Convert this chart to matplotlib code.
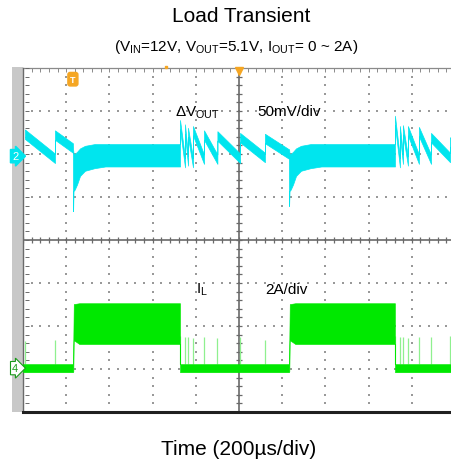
import numpy as np
import matplotlib.pyplot as plt

plt.rcParams['font.family'] = ['Liberation Sans', 'DejaVu Sans']
plt.rcParams['mathtext.fontset'] = 'custom'
plt.rcParams['mathtext.rm'] = 'Liberation Sans'

# scope settings: 200us/div over 10 div, ch2 50mV/div, ch4 2A/div
US_PER_DIV = 200.0
MV_PER_DIV = 50.0
A_PER_DIV = 2.0
CH2_POS = 5.95   # divisions above bottom edge
CH4_POS = 1.02

# load current steps 0 -> 2A and back
STEP_US = [231, 1231]
RELEASE_US = [727, 1722]

# skip-mode pulses at no load: pulse time, Vout peak, Vout just before next pulse, IL peak
PULSE_US = [[9, 148],
            [727, 750, 764, 787, 838, 900, 1005, 1120],
            [1722, 1745, 1759, 1782, 1833, 1889, 1977]]
PULSE_TOP_MV = [[31, 30],
                [42, 37, 33, 35, 30, 29, 27, 26],
                [47, 35, 36, 35, 34, 27, 22]]
PULSE_END_MV = [[3, 15],
                [-2, 0, -2, 2, 2, 3, 4, 8],
                [-2, 2, 0, 2, 2, 4, 18]]
PULSE_IL_A = [[1.26, 1.3],
              [1.5, 1.45, 1.45, 1.4, 1.44, 1.4, 1.44, 1.3],
              [1.5, 1.45, 1.45, 1.4, 1.44, 1.44, 1.5]]
SKIP_RIPPLE_MV = 11

# undershoot after the load step and recovery
DIP_DT_US = [1, 3, 6, 10, 19, 33, 56, 100, 150]
DIP_HI_MV = [8, 3, 2, 3, 5, 9, 12, 14, 14]
DIP_LO_MV = [-64, -40, -40, -38, -33, -23, -17, -14, -12]
DIP_MIN_MV = [-64, -58]

# ripple band in CCM at 2A
VOUT_HI_MV, VOUT_LO_MV = 14, -12

# inductor current bands
IL_LOW = (0.19, -0.19)
IL_HIGH = (3.02, 1.12)
RISE_DT_US = [0, 2, 4, 30]
RISE_HI_A = [0.19, 1.35, 2.98, 3.02]
RISE_LO_A = [-0.19, -0.15, 1.3, 1.12]

CYAN = '#00e5ee'
GREEN = '#00e800'
ORANGE = '#f5a623'


def vy(mv):
    return CH2_POS + np.asarray(mv, float) / MV_PER_DIV


def iy(a):
    return CH4_POS + np.asarray(a, float) / A_PER_DIV


def teeth(starts, tops, ends, stop):
    t, hi = [], []
    for t0, t1, a, b in zip(starts, starts[1:] + [stop], tops, ends):
        t += [t0, t1]
        hi += [a, b]
    hi = np.array(hi, float)
    return t, list(hi), list(hi - SKIP_RIPPLE_MV)


def vout_trace():
    t, hi, lo = teeth(PULSE_US[0], PULSE_TOP_MV[0], PULSE_END_MV[0], STEP_US[0])
    for k in range(2):
        step = STEP_US[k]
        dl = list(DIP_LO_MV)
        dl[0] = DIP_MIN_MV[k]
        t += [step + d for d in DIP_DT_US]
        hi += DIP_HI_MV
        lo += dl
        t += [RELEASE_US[k]]
        hi += [VOUT_HI_MV]
        lo += [VOUT_LO_MV]
        stop = STEP_US[k + 1] if k == 0 else 2000
        tt, th, tl = teeth(PULSE_US[k + 1], PULSE_TOP_MV[k + 1],
                           PULSE_END_MV[k + 1], stop)
        t += tt
        hi += th
        lo += tl
    return np.array(t), np.array(hi), np.array(lo)


def il_trace():
    t = [0]
    hi = [IL_LOW[0]]
    lo = [IL_LOW[1]]
    for k in range(2):
        t += [STEP_US[k] + d for d in RISE_DT_US] + [RELEASE_US[k]] * 2
        hi += RISE_HI_A + [IL_HIGH[0], IL_LOW[0]]
        lo += RISE_LO_A + [IL_HIGH[1], IL_LOW[1]]
    t += [2000]
    hi += [IL_LOW[0]]
    lo += [IL_LOW[1]]
    return np.array(t), np.array(hi), np.array(lo)


fig = plt.figure(figsize=(4.51, 4.64), dpi=100)
ax = fig.add_axes([23 / 451, 1 - 413 / 464, 432 / 451, 344 / 464])
ax.set_xlim(0, 10 * US_PER_DIV)
ax.set_ylim(0, 8)
ax.set_axis_off()

# grey strip behind the channel markers
fig.patches.append(plt.Rectangle((12 / 451, 1 - 413 / 464), 11 / 451, 345 / 464,
                                 transform=fig.transFigure, fc='#c8c8c8', ec='none',
                                 zorder=-1))

# graticule
minor_x = np.arange(0, 2001, US_PER_DIV / 5)
minor_y = np.arange(0, 8.01, 0.2)
for i in range(1, 10):
    if i == 5:
        continue
    ax.scatter(np.full_like(minor_y, i * US_PER_DIV), minor_y, s=1.2,
               c='#999999', marker='s', lw=0, zorder=1)
for j in range(1, 8):
    if j == 4:
        continue
    ax.scatter(minor_x, np.full_like(minor_x, j), s=1.2, c='#999999',
               marker='s', lw=0, zorder=1)
ax.axvline(1000, color='#6a6a6a', lw=1.2, zorder=1)
ax.axhline(4, color='#6a6a6a', lw=1.2, zorder=1)
ax.plot(np.full_like(minor_y, 1000), minor_y, ls='none', marker='_', ms=5,
        mew=0.9, color='#6a6a6a', zorder=1)
ax.plot(minor_x, np.full_like(minor_x, 4), ls='none', marker='|', ms=5,
        mew=0.9, color='#6a6a6a', zorder=1)
# borders
ax.plot([0, 2000], [8, 8], color='#8a8a8a', lw=0.9, clip_on=False)
ax.plot(minor_x, np.full_like(minor_x, 7.96), ls='none', marker='|', ms=3,
        mew=0.7, color='#8a8a8a', clip_on=False)
ax.plot([0, 0], [0, 8], color='#6a6a6a', lw=1.0, clip_on=False)
ax.plot(np.full_like(minor_y, 20), minor_y, ls='none', marker='_', ms=3,
        mew=0.7, color='#6a6a6a', clip_on=False)
ax.plot([0, 2000], [0, 0], color='#202020', lw=2.2, clip_on=False, zorder=5)

# VOUT (ch2)
t, hi, lo = vout_trace()
ax.fill_between(t, vy(lo), vy(hi), color=CYAN, lw=0.5, ec=CYAN, zorder=3)

# IL (ch4)
t, hi, lo = il_trace()
ax.fill_between(t, iy(lo), iy(hi), color=GREEN, lw=0.4, ec=GREEN, zorder=3)
for ts, peaks in zip(PULSE_US, PULSE_IL_A):
    ax.vlines(ts, iy(IL_LOW[0]), iy(peaks), color='#8ff08f', lw=0.9, zorder=2)

# channel markers
ax.text(-36, CH2_POS, '2', ha='center', va='center', fontsize=8, color='white',
        bbox=dict(boxstyle='rarrow,pad=0.15', fc=CYAN, ec=CYAN), clip_on=False,
        zorder=6)
ax.text(-36, CH4_POS, '4', ha='center', va='center', fontsize=8, color='#1a9a1a',
        bbox=dict(boxstyle='rarrow,pad=0.15', fc='white', ec='#1a9a1a', lw=0.8),
        clip_on=False, zorder=6)

# trigger markers
ax.text(STEP_US[0], 7.74, 'T', ha='center', va='center', fontsize=6.5,
        fontweight='bold', color='white',
        bbox=dict(boxstyle='round,pad=0.25', fc=ORANGE, ec=ORANGE), zorder=6)
ax.plot([1000], [7.93], marker='v', ms=6, color=ORANGE, clip_on=False, zorder=6)
ax.plot([662], [8.02], marker='s', ms=2, color=ORANGE, clip_on=False, zorder=6)

# channel labels
ax.text(704, 6.98, 'ΔV$_{\\mathrm{OUT}}$', fontsize=11, va='center', zorder=6)
ax.text(1083, 6.99, '50mV/div', fontsize=11, va='center', zorder=6)
ax.text(801, 2.86, 'I$_{\\mathrm{L}}$', fontsize=11, va='center', zorder=6)
ax.text(1120, 2.85, '2A/div', fontsize=11, va='center', zorder=6)

fig.text(0.5355, 0.9634, 'Load Transient', ha='center', va='center', fontsize=15)
fig.text(0.524, 0.899,
         '(V$_{\\mathrm{IN}}$=12V, V$_{\\mathrm{OUT}}$=5.1V, I$_{\\mathrm{OUT}}$= 0 ~ 2A)',
         ha='center', va='center', fontsize=11)
fig.text(0.530, 0.032, 'Time (200µs/div)', ha='center', va='center', fontsize=15)

fig.savefig('out.png', dpi=100)
